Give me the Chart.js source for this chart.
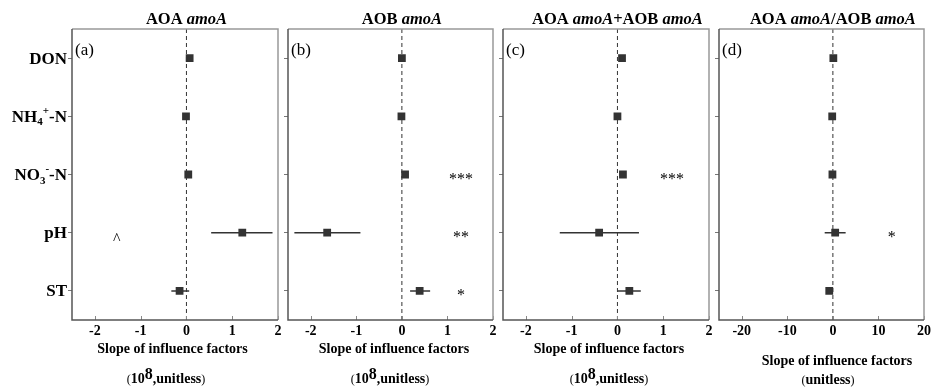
<!DOCTYPE html>
<html>
<head>
<meta charset="utf-8">
<script src="https://cdn.jsdelivr.net/npm/chart.js@4/dist/chart.umd.min.js"></script>
<style>
  body { margin: 0; background: #fff; }
  canvas { position: absolute; left: 0; top: 0; }
</style>
</head>
<body>
<canvas id="c0" width="937" height="387"></canvas>
<canvas id="c1" width="937" height="387"></canvas>
<canvas id="c2" width="937" height="387"></canvas>
<canvas id="c3" width="937" height="387"></canvas>
<script>
// factor keys (rows, top to bottom)
const factors = ['DON', 'NH4', 'NO3', 'pH', 'ST'];

// AOA amoA
const aoaSlope = [0.07, -0.01, 0.04, 1.22, -0.15];
const aoaLow   = [null, null, null, 0.54, -0.33];
const aoaHigh  = [null, null, null, 1.88, 0.06];
const aoaSig   = ['', '', '', '^', ''];
// AOB amoA
const aobSlope = [0.0, -0.01, 0.07, -1.64, 0.39];
const aobLow   = [null, null, null, -2.36, 0.18];
const aobHigh  = [null, null, null, -0.91, 0.62];
const aobSig   = ['', '', '***', '**', '*'];
// AOA amoA + AOB amoA
const sumSlope = [0.10, 0.0, 0.12, -0.40, 0.26];
const sumLow   = [null, null, null, -1.26, 0.01];
const sumHigh  = [null, null, null, 0.47, 0.51];
const sumSig   = ['', '', '***', '', ''];
// AOA amoA / AOB amoA
const ratioSlope = [0.1, -0.15, -0.1, 0.5, -0.8];
const ratioLow   = [null, null, null, -1.8, null];
const ratioHigh  = [null, null, null, 2.8, null];
const ratioSig   = ['', '', '', '*', ''];

const sigX  = [-1.52, 1.3, 1.19, 12.9];
const xMin  = [-2.5, -2.5, -2.5, -25];
const xMax  = [2, 2, 2, 20];
const xStep = [1, 1, 1, 10];

const panelTags = ['(a)', '(b)', '(c)', '(d)'];
const panelTitles = [
  [['AOA ', 0], ['amoA', 1]],
  [['AOB ', 0], ['amoA', 1]],
  [['AOA ', 0], ['amoA', 1], ['+AOB ', 0], ['amoA', 1]],
  [['AOA ', 0], ['amoA', 1], ['/AOB ', 0], ['amoA', 1]]
];
const axisTitle = 'Slope of influence factors';
const unitWith8 = [true, true, true, false];

const slopes = [aoaSlope, aobSlope, sumSlope, ratioSlope];
const lows = [aoaLow, aobLow, sumLow, ratioLow];
const highs = [aoaHigh, aobHigh, sumHigh, ratioHigh];
const sigs = [aoaSig, aobSig, sumSig, ratioSig];

// layout
const boxes = [[72, 278], [288, 493], [503, 709], [719, 924]];
const plotTop = 29, W = 937, H = 387, xAxisH = 67, yTick = 4;
const titleCx = [[172.5, 166], [394, 390], [609, 609], [837, 828]];
const titleBase = [[353, 383], [353, 383], [353, 383], [365, 384]];

const SERIF = "'Liberation Serif', 'Times New Roman', serif";
const ink = '#333333';

function richText(ctx, parts, x, y, align) {
  let w = 0;
  parts.forEach(p => { ctx.font = p.f; p.w = ctx.measureText(p.t).width; w += p.w; });
  let cx = align === 'right' ? x - w : align === 'center' ? x - w / 2 : x;
  ctx.textAlign = 'left';
  ctx.textBaseline = 'alphabetic';
  parts.forEach(p => { ctx.font = p.f; ctx.fillText(p.t, cx, y + (p.dy || 0)); cx += p.w; });
}

const B17 = 'bold 17px ' + SERIF, B11 = 'bold 11px ' + SERIF;
const rowLabels = {
  DON: [{t: 'DON', f: B17}],
  NH4: [{t: 'NH', f: B17}, {t: '4', f: B11, dy: 3.5}, {t: '+', f: B11, dy: -8}, {t: '-N', f: B17}],
  NO3: [{t: 'NO', f: B17}, {t: '3', f: B11, dy: 3.5}, {t: '-', f: B11, dy: -8}, {t: '-N', f: B17}],
  pH: [{t: 'pH', f: B17}],
  ST: [{t: 'ST', f: B17}]
};

function decorPlugin(k) {
  return {
    id: 'decor' + k,
    beforeDatasetsDraw(chart) {
      const {ctx, chartArea: a, scales: {x}} = chart;
      ctx.save();
      // zero line
      const x0 = x.getPixelForValue(0);
      ctx.strokeStyle = ink; ctx.lineWidth = 1; ctx.setLineDash([4, 3]);
      ctx.beginPath(); ctx.moveTo(x0, a.top); ctx.lineTo(x0, a.bottom); ctx.stroke();
      ctx.setLineDash([]);
      // inner x ticks
      ctx.strokeStyle = '#888'; ctx.lineWidth = 1;
      x.ticks.forEach(t => {
        const px = Math.round(x.getPixelForValue(t.value)) + 0.5;
        ctx.beginPath(); ctx.moveTo(px, a.bottom); ctx.lineTo(px, a.bottom - 4); ctx.stroke();
      });
      ctx.restore();
    },
    afterDraw(chart) {
      const {ctx, chartArea: a, scales: {x, y}} = chart;
      ctx.save();
      // frame
      ctx.lineWidth = 1.5;
      ctx.strokeStyle = '#999';
      ctx.beginPath(); ctx.moveTo(a.left, a.top); ctx.lineTo(a.right, a.top); ctx.lineTo(a.right, a.bottom); ctx.stroke();
      ctx.strokeStyle = '#555';
      ctx.beginPath(); ctx.moveTo(a.left, a.top); ctx.lineTo(a.left, a.bottom); ctx.lineTo(a.right, a.bottom); ctx.stroke();
      ctx.fillStyle = '#000';
      // panel tag
      ctx.font = '17px ' + SERIF; ctx.textAlign = 'left'; ctx.textBaseline = 'alphabetic';
      ctx.fillText(panelTags[k], a.left + 3, a.top + 26);
      // title
      const x0 = x.getPixelForValue(0);
      richText(ctx, panelTitles[k].map(p => ({t: p[0], f: (p[1] ? 'italic ' : '') + 'bold 16.5px ' + SERIF})), x0, 23.5, 'center');
      // axis titles
      richText(ctx, [{t: axisTitle, f: 'bold 14px ' + SERIF}], titleCx[k][0], titleBase[k][0], 'center');
      const unit = unitWith8[k]
        ? [{t: '(', f: '12px ' + SERIF}, {t: '10', f: 'bold 14px ' + SERIF}, {t: '8', f: 'bold 16px ' + SERIF, dy: -4},
           {t: ',unitless', f: 'bold 14px ' + SERIF}, {t: ')', f: '12px ' + SERIF}]
        : [{t: '(', f: '12px ' + SERIF}, {t: 'unitless', f: 'bold 14px ' + SERIF}, {t: ')', f: '12px ' + SERIF}];
      richText(ctx, unit, titleCx[k][1], titleBase[k][1], 'center');
      // row labels (first panel)
      if (k === 0) {
        factors.forEach(f => richText(ctx, rowLabels[f], a.left - 5, y.getPixelForValue(f) + 5.5, 'right'));
      }
      // significance marks
      sigs[k].forEach((s, i) => {
        if (!s) return;
        const py = y.getPixelForValue(factors[i]);
        ctx.font = '16px ' + SERIF; ctx.textAlign = 'center'; ctx.textBaseline = 'alphabetic';
        ctx.fillText(s, x.getPixelForValue(sigX[k]), py + (s === '^' ? 11 : 9.5));
      });
      ctx.restore();
    }
  };
}

for (let k = 0; k < 4; k++) {
  const datasets = [{
    data: factors.map((f, i) => ({x: slopes[k][i], y: f})),
    pointStyle: 'rect', pointRadius: 5.5, backgroundColor: ink, borderColor: ink, borderWidth: 0,
    order: 0
  }];
  factors.forEach((f, i) => {
    if (lows[k][i] === null) return;
    datasets.push({
      data: [{x: lows[k][i], y: f}, {x: highs[k][i], y: f}],
      showLine: true, borderColor: ink, borderWidth: 1.5, pointRadius: 0, order: 1
    });
  });

  new Chart(document.getElementById('c' + k), {
    type: 'scatter',
    data: {labels: factors, datasets},
    options: {
      responsive: false,
      animation: false,
      events: [],
      layout: {padding: {left: boxes[k][0] - yTick, right: W - boxes[k][1], top: plotTop, bottom: 0}},
      plugins: {legend: {display: false}, tooltip: {enabled: false}},
      scales: {
        x: {
          type: 'linear', min: xMin[k], max: xMax[k],
          border: {display: false},
          grid: {drawOnChartArea: false, drawTicks: false},
          ticks: {stepSize: xStep[k], includeBounds: false, padding: 3, color: '#000',
                  font: {family: SERIF, size: 14, weight: 'bold'}},
          afterFit: s => { s.height = xAxisH; }
        },
        y: {
          type: 'category', labels: factors, offset: true,
          border: {display: false},
          grid: {offset: false, drawOnChartArea: false, drawTicks: true, tickLength: yTick, color: '#777'},
          ticks: {display: false},
          afterFit: s => { s.width = yTick; }
        }
      }
    },
    plugins: [decorPlugin(k)]
  });
}
</script>
</body>
</html>
